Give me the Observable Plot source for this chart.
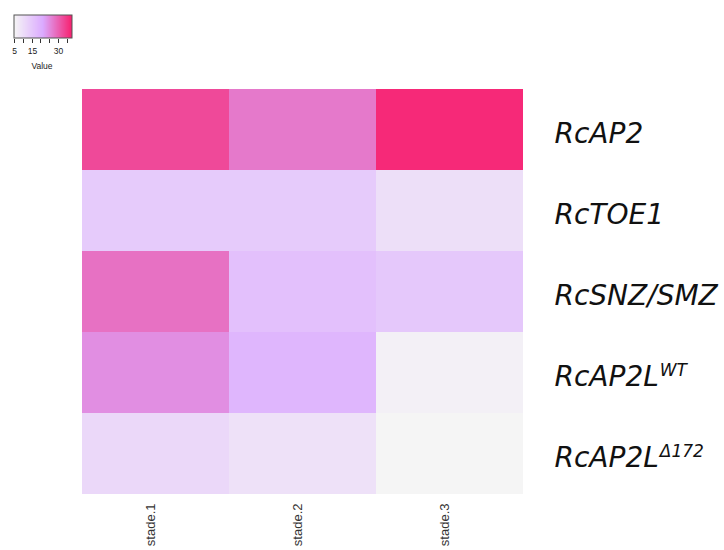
<!DOCTYPE html>
<html>
<head>
<meta charset="utf-8">
<script src="https://cdn.jsdelivr.net/npm/d3@7"></script>
<script src="https://cdn.jsdelivr.net/npm/@observablehq/plot@0.6"></script>
<style>
  html, body { margin: 0; padding: 0; background: #fff; }
  #wrap { position: relative; width: 724px; height: 550px; }
  #legend { position: absolute; left: 0; top: 0; }
  #chart { position: absolute; left: 0; top: 0; }
</style>
</head>
<body>
<div id="wrap"><div id="chart"></div><div id="legend"></div></div>
<script>
// ---- data ----
const stages = ["stade.1", "stade.2", "stade.3"];
const genes = ["RcAP2", "RcTOE1", "RcSNZ/SMZ", "RcAP2L WT", "RcAP2L Δ172"];
const geneBase = ["RcAP2", "RcTOE1", "RcSNZ/SMZ", "RcAP2L", "RcAP2L"];
const geneSup = ["", "", "", "WT", "Δ172"];
// values per stage, in gene order
const stade1 = [33.1, 14.3, 28.3, 24.8, 11.4];
const stade2 = [27.4, 14.3, 16.7, 18.9, 9.4];
const stade3 = [36.9, 9.8, 14.9, 6.1, 5.0];
const legendTicks = [5, 10, 15, 20, 25, 30, 35];
const legendLabels = [5, 15, 30];
const colorDomain = [5, 21.5, 38];
const colorRange = ["#f5f5f5", "#dbaaff", "#f8206e"];

const byStage = [stade1, stade2, stade3];
const table = genes.flatMap((g, i) => stages.map((s, j) => ({gene: g, stage: s, value: byStage[j][i]})));

const colorOpts = {type: "linear", domain: colorDomain, range: colorRange, interpolate: "rgb"};

const chart = Plot.plot({
  width: 724,
  height: 550,
  marginLeft: 82,
  marginRight: 201,
  marginTop: 88,
  marginBottom: 55,
  style: {background: "transparent"},
  x: {domain: stages, padding: 0, axis: null},
  y: {domain: genes, padding: 0, axis: null},
  color: colorOpts,
  marks: [
    Plot.cell(table, {x: "stage", y: "gene", fill: "value", inset: 0, shapeRendering: "crispEdges"}),
    Plot.axisY({anchor: "right", label: null, tickSize: 0, tickPadding: 31, dy: 4,
      fontSize: 28, fontStyle: "italic", fontFamily: "DejaVu Sans", fill: "#111",
      tickFormat: (d) => geneBase[genes.indexOf(d)]}),
    Plot.axisX({anchor: "bottom", label: null, tickSize: 0, tickRotate: -90, tickPadding: 8, dx: -5,
      fontSize: 13, fontFamily: "Liberation Sans", fill: "#333"})
  ]
});
document.getElementById("chart").appendChild(chart);

// superscripts on gene labels
d3.select(chart).selectAll('g[aria-label="y-axis tick label"] text').each(function(d, i) {
  const sup = geneSup[i];
  if (sup) {
    d3.select(this).append("tspan").attr("dy", "-10").attr("dx", "1").attr("font-size", 17).text(sup);
  }
});

// legend
const legend = Plot.legend({
  color: colorOpts,
  width: 82,
  height: 70,
  marginLeft: 14,
  marginRight: 10,
  marginTop: 15,
  marginBottom: 32,
  ticks: legendTicks,
  tickSize: 4,
  tickFormat: (d) => legendLabels.includes(d) ? d : "",
  label: null,
  style: {fontSize: "8.5px", fontFamily: "Liberation Sans", color: "#222", overflow: "visible"}
});
document.getElementById("legend").appendChild(legend);
const lg = d3.select(legend);
lg.selectAll(".tick line").attr("y1", 1).attr("y2", 5).attr("stroke", "#333");
lg.selectAll(".tick text").attr("y", 10);
lg.append("rect").attr("x", 14).attr("y", 15).attr("width", 58).attr("height", 23)
  .attr("fill", "none").attr("stroke", "#555").attr("stroke-width", 1);
lg.append("text").attr("x", 42).attr("y", 69).attr("text-anchor", "middle")
  .attr("font-size", 8.5).attr("fill", "#222").text("Value");
</script>
</body>
</html>
